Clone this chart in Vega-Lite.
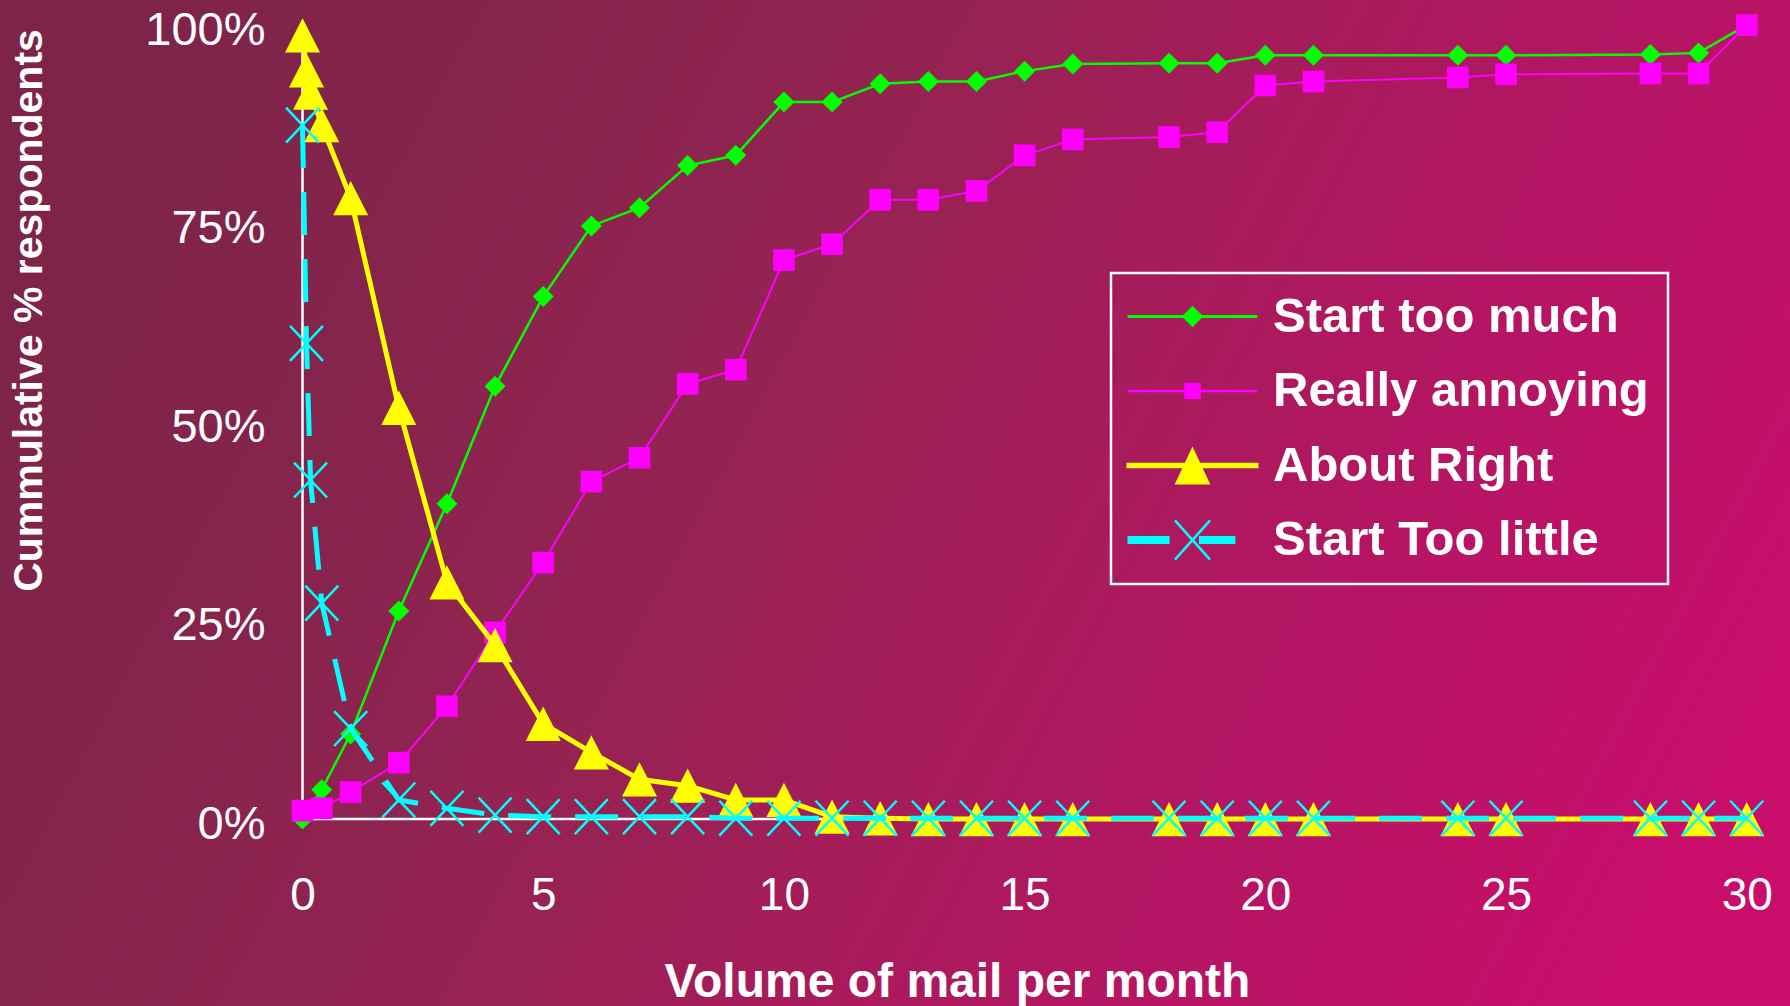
{
  "$schema": "https://vega.github.io/schema/vega-lite/v6.json",
  "width": 1790,
  "height": 1006,
  "autosize": {"type": "none"},
  "padding": 0,
  "background": "#a01d58",
  "view": {
    "stroke": null,
    "fill": {
      "gradient": "linear",
      "x1": 0, "y1": 0.35, "x2": 1, "y2": 0.65,
      "stops": [
        {"offset": 0, "color": "#7f2449"},
        {"offset": 0.2, "color": "#86244c"},
        {"offset": 0.4, "color": "#952352"},
        {"offset": 0.6, "color": "#a81b5c"},
        {"offset": 0.8, "color": "#b81465"},
        {"offset": 1, "color": "#c80d6b"}
      ]
    }
  },
  "config": {"font": "Liberation Sans"},
  "data": {
    "values": [
      {"s": "Start too much", "x": 0, "v": 0},
      {"s": "Start too much", "x": 0.4, "v": 3.7},
      {"s": "Start too much", "x": 1, "v": 10.7},
      {"s": "Start too much", "x": 2, "v": 26.2},
      {"s": "Start too much", "x": 3, "v": 39.7},
      {"s": "Start too much", "x": 4, "v": 54.5},
      {"s": "Start too much", "x": 5, "v": 65.8},
      {"s": "Start too much", "x": 6, "v": 74.7},
      {"s": "Start too much", "x": 7, "v": 77.0},
      {"s": "Start too much", "x": 8, "v": 82.3},
      {"s": "Start too much", "x": 9, "v": 83.6},
      {"s": "Start too much", "x": 10, "v": 90.3},
      {"s": "Start too much", "x": 11, "v": 90.3},
      {"s": "Start too much", "x": 12, "v": 92.6},
      {"s": "Start too much", "x": 13, "v": 92.9},
      {"s": "Start too much", "x": 14, "v": 92.9},
      {"s": "Start too much", "x": 15, "v": 94.2},
      {"s": "Start too much", "x": 16, "v": 95.1},
      {"s": "Start too much", "x": 18, "v": 95.2},
      {"s": "Start too much", "x": 19, "v": 95.2},
      {"s": "Start too much", "x": 20, "v": 96.2},
      {"s": "Start too much", "x": 21, "v": 96.2},
      {"s": "Start too much", "x": 24, "v": 96.2},
      {"s": "Start too much", "x": 25, "v": 96.2},
      {"s": "Start too much", "x": 28, "v": 96.3},
      {"s": "Start too much", "x": 29, "v": 96.5},
      {"s": "Start too much", "x": 30, "v": 100},
      {"s": "Really annoying", "x": 0, "v": 1.05},
      {"s": "Really annoying", "x": 0.4, "v": 1.35},
      {"s": "Really annoying", "x": 1, "v": 3.4},
      {"s": "Really annoying", "x": 2, "v": 7.1},
      {"s": "Really annoying", "x": 3, "v": 14.2},
      {"s": "Really annoying", "x": 4, "v": 23.5},
      {"s": "Really annoying", "x": 5, "v": 32.3},
      {"s": "Really annoying", "x": 6, "v": 42.5},
      {"s": "Really annoying", "x": 7, "v": 45.5},
      {"s": "Really annoying", "x": 8, "v": 54.8},
      {"s": "Really annoying", "x": 9, "v": 56.6},
      {"s": "Really annoying", "x": 10, "v": 70.4},
      {"s": "Really annoying", "x": 11, "v": 72.4},
      {"s": "Really annoying", "x": 12, "v": 78.0},
      {"s": "Really annoying", "x": 13, "v": 78.0},
      {"s": "Really annoying", "x": 14, "v": 79.1},
      {"s": "Really annoying", "x": 15, "v": 83.6},
      {"s": "Really annoying", "x": 16, "v": 85.6},
      {"s": "Really annoying", "x": 18, "v": 85.9},
      {"s": "Really annoying", "x": 19, "v": 86.5},
      {"s": "Really annoying", "x": 20, "v": 92.4},
      {"s": "Really annoying", "x": 21, "v": 92.9},
      {"s": "Really annoying", "x": 24, "v": 93.4},
      {"s": "Really annoying", "x": 25, "v": 93.8},
      {"s": "Really annoying", "x": 28, "v": 93.9},
      {"s": "Really annoying", "x": 29, "v": 93.9},
      {"s": "Really annoying", "x": 30, "v": 100},
      {"s": "About Right", "x": 0, "v": 98.7},
      {"s": "About Right", "x": 0.083, "v": 94.3},
      {"s": "About Right", "x": 0.167, "v": 91.5},
      {"s": "About Right", "x": 0.4, "v": 87.4},
      {"s": "About Right", "x": 1, "v": 78.2},
      {"s": "About Right", "x": 2, "v": 51.8},
      {"s": "About Right", "x": 3, "v": 29.8},
      {"s": "About Right", "x": 4, "v": 21.9},
      {"s": "About Right", "x": 5, "v": 12.0},
      {"s": "About Right", "x": 6, "v": 8.4},
      {"s": "About Right", "x": 7, "v": 5.0},
      {"s": "About Right", "x": 8, "v": 4.2},
      {"s": "About Right", "x": 9, "v": 2.4},
      {"s": "About Right", "x": 10, "v": 2.4},
      {"s": "About Right", "x": 11, "v": 0.3},
      {"s": "About Right", "x": 12, "v": 0.1},
      {"s": "About Right", "x": 13, "v": 0},
      {"s": "About Right", "x": 14, "v": 0},
      {"s": "About Right", "x": 15, "v": 0},
      {"s": "About Right", "x": 16, "v": 0},
      {"s": "About Right", "x": 18, "v": 0},
      {"s": "About Right", "x": 19, "v": 0},
      {"s": "About Right", "x": 20, "v": 0},
      {"s": "About Right", "x": 21, "v": 0},
      {"s": "About Right", "x": 24, "v": 0},
      {"s": "About Right", "x": 25, "v": 0},
      {"s": "About Right", "x": 28, "v": 0},
      {"s": "About Right", "x": 29, "v": 0},
      {"s": "About Right", "x": 30, "v": 0},
      {"s": "Start Too little", "x": 0, "v": 87.4},
      {"s": "Start Too little", "x": 0.083, "v": 59.9},
      {"s": "Start Too little", "x": 0.167, "v": 42.7},
      {"s": "Start Too little", "x": 0.4, "v": 27.2},
      {"s": "Start Too little", "x": 1, "v": 11.4},
      {"s": "Start Too little", "x": 2, "v": 2.4},
      {"s": "Start Too little", "x": 3, "v": 1.35},
      {"s": "Start Too little", "x": 4, "v": 0.5},
      {"s": "Start Too little", "x": 5, "v": 0.3},
      {"s": "Start Too little", "x": 6, "v": 0.3},
      {"s": "Start Too little", "x": 7, "v": 0.3},
      {"s": "Start Too little", "x": 8, "v": 0.3},
      {"s": "Start Too little", "x": 9, "v": 0.1},
      {"s": "Start Too little", "x": 10, "v": 0.1},
      {"s": "Start Too little", "x": 11, "v": 0.1},
      {"s": "Start Too little", "x": 12, "v": 0.1},
      {"s": "Start Too little", "x": 13, "v": 0.1},
      {"s": "Start Too little", "x": 14, "v": 0.1},
      {"s": "Start Too little", "x": 15, "v": 0.1},
      {"s": "Start Too little", "x": 16, "v": 0.1},
      {"s": "Start Too little", "x": 18, "v": 0.1},
      {"s": "Start Too little", "x": 19, "v": 0.1},
      {"s": "Start Too little", "x": 20, "v": 0.1},
      {"s": "Start Too little", "x": 21, "v": 0.1},
      {"s": "Start Too little", "x": 24, "v": 0.1},
      {"s": "Start Too little", "x": 25, "v": 0.1},
      {"s": "Start Too little", "x": 28, "v": 0.1},
      {"s": "Start Too little", "x": 29, "v": 0.1},
      {"s": "Start Too little", "x": 30, "v": 0.1}
    ]
  },
  "encoding": {
    "x": {
      "field": "x",
      "type": "quantitative",
      "scale": {"domain": [-6.284, 30.899], "nice": false, "zero": false},
      "axis": {
        "orient": "bottom",
        "offset": -187,
        "values": [0, 5, 10, 15, 20, 25, 30],
        "domain": false,
        "ticks": false,
        "tickSize": 0,
        "grid": false,
        "labelFont": "Liberation Sans",
        "labelFontSize": 46,
        "labelColor": "white",
        "labelPadding": 54,
        "labelBaseline": "top",
        "labelFlush": false,
        "labelOverlap": false,
        "title": "Volume of mail per month",
        "titleFont": "Liberation Sans",
        "titleFontSize": 48,
        "titleFontWeight": "bold",
        "titleColor": "white",
        "titleX": 957,
        "titleY": 177,
        "titleAlign": "center",
        "titleBaseline": "alphabetic"
      }
    },
    "y": {
      "field": "v",
      "type": "quantitative",
      "scale": {"domain": [-23.55, 103.16], "nice": false, "zero": false},
      "axis": {
        "orient": "left",
        "offset": -302,
        "values": [0, 25, 50, 75, 100],
        "labelExpr": "datum.value + '%'",
        "domain": false,
        "ticks": false,
        "tickSize": 0,
        "grid": false,
        "labelFont": "Liberation Sans",
        "labelFontSize": 47,
        "labelColor": "white",
        "labelPadding": 37,
        "labelOffset": 5,
        "labelFlush": false,
        "labelOverlap": false,
        "title": "Cummulative % respondents",
        "titleFont": "Liberation Sans",
        "titleFontSize": 41,
        "titleFontWeight": "bold",
        "titleColor": "white",
        "titleAngle": -90,
        "titleX": -273,
        "titleY": 310,
        "titleAlign": "center",
        "titleBaseline": "middle"
      }
    },
    "color": {
      "field": "s",
      "type": "nominal",
      "scale": {
        "domain": ["Start too much", "Really annoying", "About Right", "Start Too little"],
        "range": ["#00ff00", "#ff00ff", "#ffff00", "#00ffff"]
      },
      "legend": {
        "title": null,
        "orient": "none",
        "legendX": 1111,
        "legendY": 273,
        "direction": "vertical",
        "strokeColor": "white",
        "padding": 19,
        "rowPadding": 24.5,
        "labelFont": "Liberation Sans",
        "labelFontSize": 49,
        "labelFontWeight": "bold",
        "labelColor": "white",
        "labelLimit": 0,
        "symbolSize": 900,
        "symbolStrokeWidth": 0,
        "symbolOffset": 38,
        "labelOffset": 56,
        "encode": {
          "legend": {
            "update": {
              "stroke": {"value": "white"},
              "strokeWidth": {"value": 2.5}
            }
          },
          "symbols": {
            "update": {
              "shape": {"signal": "datum.value === 'Start too much' ? 'M-4.33,-0.1H4.33V0.1H-4.33Z M0,-0.72L0.72,0L0,0.72L-0.72,0Z' : datum.value === 'Really annoying' ? 'M-4.33,-0.08H4.33V0.08H-4.33Z M-0.55,-0.55H0.55V0.55H-0.55Z' : datum.value === 'About Right' ? 'M-4.4,-0.19H4.4V0.19H-4.4Z M0,-1.27L1.19,1.27L-1.19,1.27Z' : 'M-4.33,-0.26H-1.53V0.26H-4.33Z M0.43,-0.26H2.86V0.26H0.43Z M-1.232,-1.255L1.108,1.365L1.232,1.255L-1.108,-1.365Z M-1.108,1.365L1.232,-1.255L1.108,-1.365L-1.232,1.255Z'"},
              "fill": {"scale": "color", "field": "value"},
              "stroke": {"value": "transparent"},
              "strokeWidth": {"value": 0},
              "opacity": {"value": 1}
            }
          }
        }
      }
    }
  },
  "layer": [
    {
      "transform": [{"filter": "datum.s === 'Start too much' && datum.x === 0"}],
      "mark": {"type": "rule", "strokeWidth": 2.5},
      "encoding": {"x2": {"datum": 30}, "color": {"value": "white"}}
    },
    {
      "transform": [{"filter": "datum.s === 'Start too much' && datum.x === 0"}],
      "mark": {"type": "rule", "strokeWidth": 2.5},
      "encoding": {"y2": {"datum": 100}, "color": {"value": "white"}}
    },
    {
      "transform": [{"filter": "datum.s === 'Start too much'"}],
      "mark": {"type": "line", "strokeWidth": 2.5},
      "encoding": {}
    },
    {
      "transform": [{"filter": "datum.s === 'Start too much'"}],
      "mark": {"type": "point", "shape": "diamond", "size": 441, "filled": true, "opacity": 1, "strokeWidth": 0}
    },
    {
      "transform": [{"filter": "datum.s === 'Really annoying'"}],
      "mark": {"type": "line", "strokeWidth": 2},
      "encoding": {}
    },
    {
      "transform": [{"filter": "datum.s === 'Really annoying'"}],
      "mark": {"type": "point", "shape": "square", "size": 470, "filled": true, "opacity": 1, "strokeWidth": 0}
    },
    {
      "transform": [{"filter": "datum.s === 'About Right'"}],
      "mark": {"type": "line", "strokeWidth": 5},
      "encoding": {}
    },
    {
      "transform": [{"filter": "datum.s === 'About Right'"}],
      "mark": {"type": "point", "shape": "M0,-0.98L1,0.98L-1,0.98Z", "size": 1225, "filled": true, "opacity": 1, "strokeWidth": 0}
    },
    {
      "transform": [{"filter": "datum.s === 'Start Too little'"}],
      "mark": {"type": "line", "strokeWidth": 5, "strokeDash": [43, 24]},
      "encoding": {}
    },
    {
      "transform": [{"filter": "datum.s === 'Start Too little'"}],
      "mark": {"type": "point", "shape": "M-1,-1.06L1,1.06M-1,1.06L1,-1.06", "size": 1089, "filled": false, "opacity": 1, "strokeWidth": 2.5}
    }
  ]
}
